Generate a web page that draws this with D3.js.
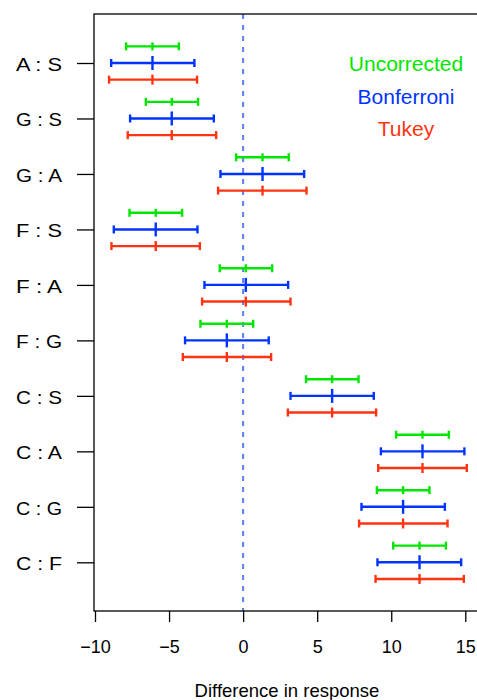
<!DOCTYPE html>
<html><head><meta charset="utf-8">
<script src="https://cdn.jsdelivr.net/npm/d3@7"></script>
<style>body{margin:0;background:#fff}svg{display:block}</style>
</head><body>
<svg id="c" width="477" height="700"></svg>
<script>
// ---- data ----
const comparisons = ["A : S","G : S","G : A","F : S","F : A","F : G","C : S","C : A","C : G","C : F"];
const estimates   = [-6.12,-4.82,1.31,-5.90,0.18,-1.10,6.01,12.11,10.80,11.91];
const uncorrectedLower = [-7.90,-6.57,-0.47,-7.67,-1.58,-2.88,4.25,10.33,9.03,10.13];
const uncorrectedUpper = [-4.34,-3.04,3.08,-4.12,1.96,0.68,7.79,13.89,12.58,13.69];
const bonferroniLower  = [-8.91,-7.63,-1.53,-8.73,-2.61,-3.92,3.20,9.30,7.99,9.07];
const bonferroniUpper  = [-3.29,-1.98,4.12,-3.08,3.04,1.73,8.82,14.94,13.62,14.72];
const tukeyLower       = [-9.05,-7.79,-1.69,-8.89,-2.77,-4.07,3.02,9.12,7.83,8.94];
const tukeyUpper       = [-3.11,-1.82,4.28,-2.92,3.20,1.89,8.98,15.10,13.80,14.90];
const methods = ["Uncorrected","Bonferroni","Tukey"];
const xTicks = [-10,-5,0,5,10,15];
const xTitle = "Difference in response";

// ---- styles ----
const colors = {"Uncorrected":"#00e600","Bonferroni":"#0033ff","Tukey":"#ff3311"};
const centerHalf = {"Uncorrected":4,"Bonferroni":7,"Tukey":5};
const capHalf = 4;

const series = [
  {name:"Uncorrected", lo:uncorrectedLower, hi:uncorrectedUpper, off:-1},
  {name:"Bonferroni",  lo:bonferroniLower,  hi:bonferroniUpper,  off:0},
  {name:"Tukey",       lo:tukeyLower,       hi:tukeyUpper,       off:1}
];

const svg = d3.select("#c");
const pLeft = 94, pRight = 480, pTop = 14, pBottom = 611;

const x = d3.scaleLinear().domain([-10,15]).range([95,465.3]);
const y = d3.scalePoint().domain(comparisons).range([63,562.3]);
const off = y.step()*0.3;

// zero line
svg.append("line")
  .attr("x1",x(0)).attr("x2",x(0)).attr("y1",pTop).attr("y2",pBottom)
  .attr("stroke","#5b7ef0").attr("stroke-width",2).attr("stroke-dasharray","5,6");

// error bars
series.forEach(s=>{
  const g = svg.append("g").attr("stroke",colors[s.name]).attr("stroke-width",2.4).attr("fill","none");
  comparisons.forEach((c,i)=>{
    const yy = y(c) + s.off*off;
    g.append("line").attr("x1",x(s.lo[i])).attr("x2",x(s.hi[i])).attr("y1",yy).attr("y2",yy);
    [s.lo[i], s.hi[i]].forEach(v=>{
      g.append("line").attr("x1",x(v)).attr("x2",x(v)).attr("y1",yy-capHalf).attr("y2",yy+capHalf);
    });
    g.append("line").attr("x1",x(estimates[i])).attr("x2",x(estimates[i]))
      .attr("y1",yy-centerHalf[s.name]).attr("y2",yy+centerHalf[s.name]);
  });
});

// box
svg.append("rect").attr("x",pLeft).attr("y",pTop).attr("width",pRight-pLeft).attr("height",pBottom-pTop)
  .attr("fill","none").attr("stroke","#000").attr("stroke-width",1.3);

// x axis
const xa = svg.append("g").attr("transform",`translate(0,${pBottom})`)
  .call(d3.axisBottom(x).tickValues(xTicks).tickSize(11).tickFormat(d=> d<0 ? "\u2212"+Math.abs(d) : String(d)));
xa.select(".domain").remove();
xa.selectAll(".tick line").attr("stroke","#000").attr("stroke-width",1.3);
xa.selectAll(".tick text").attr("y",42).attr("dy",null)
  .attr("font-family","Liberation Sans, Arial, sans-serif").attr("font-size",18).attr("fill","#000");

// y axis
const ya = svg.append("g").attr("transform",`translate(${pLeft},0)`)
  .call(d3.axisLeft(y).tickSize(17));
ya.select(".domain").remove();
ya.selectAll(".tick line").attr("stroke","#000").attr("stroke-width",1.3);
ya.selectAll(".tick text").attr("x",-32).attr("dy",null).attr("y",7.5)
  .attr("font-family","Liberation Sans, Arial, sans-serif").attr("font-size",18).attr("fill","#000")
  .attr("textLength",46).attr("lengthAdjust","spacingAndGlyphs");

// x title
svg.append("text").attr("x",(pLeft+pRight)/2).attr("y",697).attr("text-anchor","middle")
  .attr("font-family","Liberation Sans, Arial, sans-serif").attr("font-size",18.5).attr("fill","#000")
  .text(xTitle);

// legend
const legY = [71,104,136];
methods.forEach((m,i)=>{
  svg.append("text").attr("x",406).attr("y",legY[i]).attr("text-anchor","middle")
    .attr("font-family","Liberation Sans, Arial, sans-serif").attr("font-size",21)
    .attr("fill",colors[m]).text(m);
});
</script>
</body></html>
